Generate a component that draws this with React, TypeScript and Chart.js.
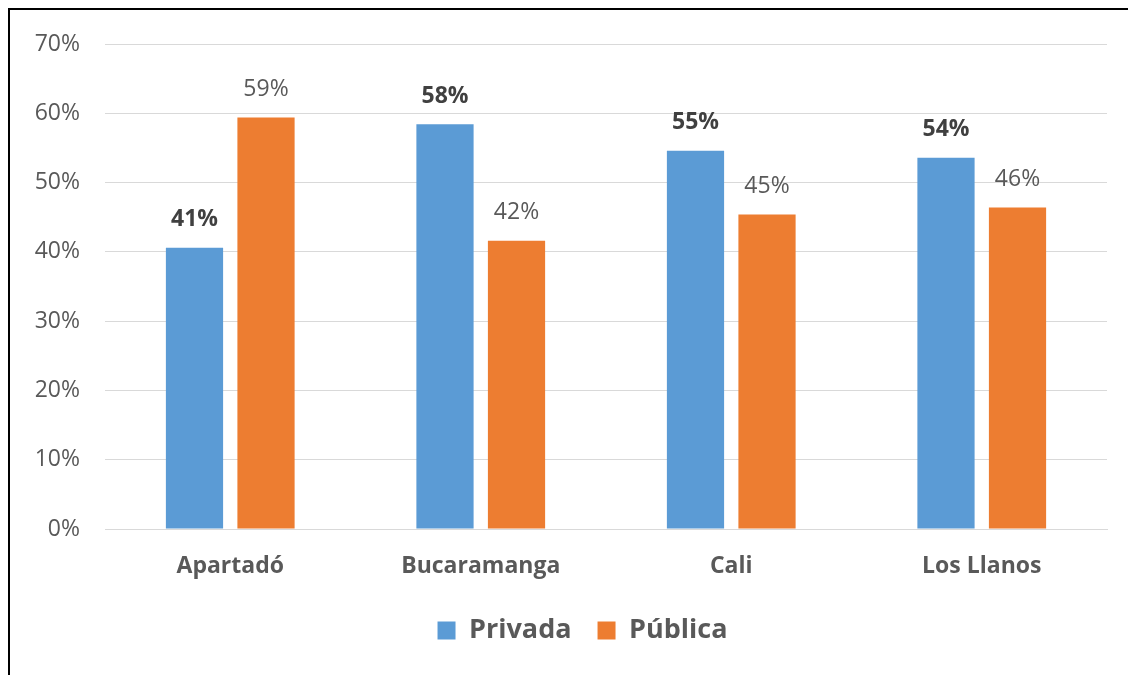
import React, { useEffect, useRef } from "react";
import { Chart, registerables } from "chart.js";

Chart.register(...registerables);

const categories = ["Apartadó", "Bucaramanga", "Cali", "Los Llanos"];
const privada = [40.6, 58.4, 54.6, 53.6];
const publica = [59.4, 41.6, 45.4, 46.4];
const privadaLabels = ["41%", "58%", "55%", "54%"];
const publicaLabels = ["59%", "42%", "45%", "46%"];
const seriesNames = ["Privada", "Pública"];
const FONT = "'Open Sans', 'Noto Sans', sans-serif";

const labelPlugin = {
  id: "barLabels",
  afterLayout(chart: any) {
    const lg = chart.legend;
    if (lg) {
      lg.left += 24;
      lg.right += 24;
    }
  },
  afterDatasetsDraw(chart: any) {
    const ctx = chart.ctx;
    const sets = [
      { labels: privadaLabels, weight: "bold", color: "#404040" },
      { labels: publicaLabels, weight: "normal", color: "#595959" },
    ];
    sets.forEach((s, di) => {
      const meta = chart.getDatasetMeta(di);
      meta.data.forEach((el: any, i: number) => {
        ctx.save();
        ctx.font = `${s.weight} 23px ${FONT}`;
        ctx.fillStyle = s.color;
        ctx.textAlign = "center";
        ctx.textBaseline = "middle";
        ctx.fillText(s.labels[i], el.x, el.y - 28);
        ctx.restore();
      });
    });
  },
};

export default function App() {
  const ref = useRef<HTMLCanvasElement>(null);
  useEffect(() => {
    if (!ref.current) return;
    const chart = new Chart(ref.current, {
      type: "bar",
      data: {
        labels: categories,
        datasets: [
          {
            label: seriesNames[0],
            data: privada,
            backgroundColor: "#5b9bd5",
            categoryPercentage: 0.571,
            barPercentage: 0.8,
          },
          {
            label: seriesNames[1],
            data: publica,
            backgroundColor: "#ed7d31",
            categoryPercentage: 0.571,
            barPercentage: 0.8,
          },
        ],
      },
      options: {
        animation: false,
        responsive: false,
        layout: { padding: { top: 34, right: 29, bottom: 21, left: 0 } },
        plugins: {
          tooltip: { enabled: false },
          legend: {
            position: "bottom",
            labels: {
              font: { family: FONT, size: 27, weight: "bold" },
              color: "#595959",
              boxWidth: 18,
              boxHeight: 18,
              padding: 26,
            },
          },
        },
        scales: {
          x: {
            grid: { display: false },
            border: { color: "#d9d9d9" },
            ticks: {
              font: { family: FONT, size: 23, weight: "bold" },
              color: "#595959",
              padding: 16,
            },
            afterFit(scale: any) {
              scale.height = 62;
            },
          },
          y: {
            min: 0,
            max: 70,
            ticks: {
              stepSize: 10,
              font: { family: FONT, size: 23 },
              color: "#595959",
              padding: 25,
              callback: (v: any) => v + "%",
            },
            grid: { color: "#d9d9d9", drawTicks: false },
            border: { display: false },
            afterFit(scale: any) {
              scale.width = 95;
              scale.paddingTop = 0;
              scale.paddingBottom = 0;
            },
          },
        },
      },
      plugins: [labelPlugin],
    });
    return () => chart.destroy();
  }, []);
  return (
    <div
      style={{
        borderTop: "2px solid #000",
        borderLeft: "2px solid #000",
        width: 1126,
        height: 665,
        background: "#fff",
      }}
    >
      <canvas ref={ref} width={1126} height={665} style={{ display: "block" }} />
    </div>
  );
}
